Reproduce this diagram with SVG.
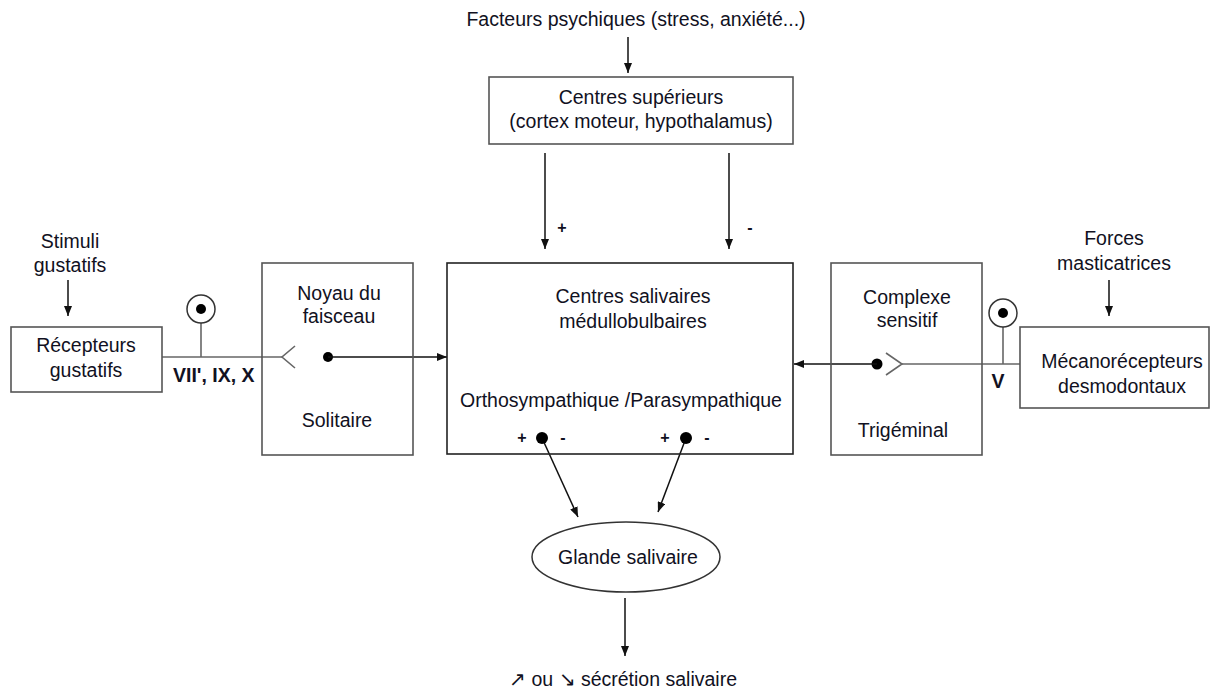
<svg xmlns="http://www.w3.org/2000/svg" width="1211" height="691" viewBox="0 0 1211 691">
<style>
  text { font-family: "Liberation Sans", Arial, sans-serif; font-size: 19.5px; fill: #111122; }
  .c { text-anchor: middle; }
  .b { font-weight: bold; }
  .s { font-size: 16px; font-weight: bold; }
  .box { fill: none; stroke: #555; stroke-width: 1.6; }
  .bbox { fill: none; stroke: #222; stroke-width: 1.6; }
  .ln { fill: none; stroke: #111; stroke-width: 1.5; }
  .gl { fill: none; stroke: #666; stroke-width: 1.6; }
  .dot { fill: #000; }
</style>
<defs>
  <marker id="arr" viewBox="0 0 10 8" refX="10" refY="4" markerWidth="10" markerHeight="8" orient="auto" markerUnits="userSpaceOnUse">
    <path d="M0,0 L10,4 L0,8 z" fill="#111"/>
  </marker>
</defs>
<rect width="1211" height="691" fill="#fff"/>

<g id="connectors">
  <line class="ln" x1="628" y1="37" x2="628" y2="73" marker-end="url(#arr)"/>
  <line class="ln" x1="545" y1="153" x2="545" y2="249" marker-end="url(#arr)"/>
  <line class="ln" x1="729" y1="153" x2="729" y2="249" marker-end="url(#arr)"/>
  <line class="ln" x1="68" y1="280" x2="68" y2="316" marker-end="url(#arr)"/>
  <line class="ln" x1="1109" y1="280" x2="1109" y2="316" marker-end="url(#arr)"/>
  <line class="gl" x1="162" y1="357" x2="282" y2="357"/>
  <polyline class="gl" points="295,346 282,357 295,368"/>
  <line class="gl" x1="201" y1="357" x2="201" y2="323"/>
  <circle cx="201" cy="309" r="14" fill="#fff" stroke="#333" stroke-width="1.5"/>
  <circle class="dot" cx="201" cy="309" r="5"/>
  <circle class="dot" cx="328" cy="357" r="5"/>
  <line class="ln" x1="328" y1="357" x2="447" y2="357" marker-end="url(#arr)"/>
  <line class="gl" x1="902" y1="364" x2="1020" y2="364"/>
  <polyline class="gl" points="886,353 902,364 886,375"/>
  <line class="gl" x1="1003" y1="364" x2="1003" y2="327"/>
  <circle cx="1003" cy="313" r="14" fill="#fff" stroke="#333" stroke-width="1.5"/>
  <circle class="dot" cx="1003" cy="313" r="5"/>
  <circle class="dot" cx="877" cy="364" r="5.5"/>
  <line class="ln" x1="877" y1="364" x2="794" y2="364" marker-end="url(#arr)"/>
  <line class="ln" x1="542" y1="438" x2="578" y2="517" marker-end="url(#arr)"/>
  <line class="ln" x1="686" y1="438" x2="658" y2="512" marker-end="url(#arr)"/>
  <line class="ln" x1="625" y1="598" x2="625" y2="656" marker-end="url(#arr)"/>
</g>

<g id="facteurs">
  <text class="c" x="636" y="26">Facteurs psychiques (stress, anxiété...)</text>
</g>

<g id="centres-superieurs">
  <rect class="box" x="489" y="77" width="304" height="67"/>
  <text class="c" x="641" y="104">Centres supérieurs</text>
  <text class="c" x="641" y="128">(cortex moteur, hypothalamus)</text>
</g>

<g id="signs-top">
  <text class="c s" x="562" y="233">+</text>
  <text class="c s" x="750" y="233">-</text>
</g>

<g id="stimuli">
  <text class="c" x="70" y="248">Stimuli</text>
  <text class="c" x="70" y="272">gustatifs</text>
</g>

<g id="recepteurs">
  <rect class="box" x="11" y="327" width="151" height="65"/>
  <text class="c" x="86" y="352">Récepteurs</text>
  <text class="c" x="86" y="377">gustatifs</text>
</g>

<g id="nerf-gustatif-label">
  <text class="b" x="173" y="382">VII', IX, X</text>
</g>

<g id="noyau">
  <rect class="box" x="262" y="263" width="151" height="192"/>
  <text class="c" x="339" y="300">Noyau du</text>
  <text class="c" x="339" y="323">faisceau</text>
  <text class="c" x="337" y="427">Solitaire</text>
</g>

<g id="centres-salivaires">
  <rect class="bbox" x="447" y="263" width="346" height="191"/>
  <text class="c" x="633" y="303">Centres salivaires</text>
  <text class="c" x="633" y="328">médullobulbaires</text>
  <text class="c" x="621" y="407">Orthosympathique /Parasympathique</text>
  <text class="c s" x="522" y="443">+</text>
  <text class="c s" x="563" y="443">-</text>
  <text class="c s" x="665" y="443">+</text>
  <text class="c s" x="707" y="443">-</text>
  <circle class="dot" cx="542" cy="438" r="6"/>
  <circle class="dot" cx="686" cy="438" r="6"/>
</g>

<g id="complexe">
  <rect class="box" x="831" y="263" width="151" height="192"/>
  <text class="c" x="907" y="304">Complexe</text>
  <text class="c" x="907" y="327">sensitif</text>
  <text class="c" x="903" y="437">Trigéminal</text>
</g>

<g id="nerf-trigeminal-label">
  <text class="b c" x="998" y="388">V</text>
</g>

<g id="forces">
  <text class="c" x="1114" y="245">Forces</text>
  <text class="c" x="1114" y="270">masticatrices</text>
</g>

<g id="mecanorecepteurs">
  <rect class="box" x="1020" y="327" width="189" height="81"/>
  <text class="c" x="1122" y="368">Mécanorécepteurs</text>
  <text class="c" x="1122" y="393">desmodontaux</text>
</g>

<g id="glande">
  <ellipse cx="626" cy="557" rx="94" ry="35" fill="#fff" stroke="#333" stroke-width="1.5"/>
  <text class="c" x="628" y="564">Glande salivaire</text>
</g>

<g id="secretion">
  <text class="c" x="623" y="686">↗ ou ↘ sécrétion salivaire</text>
</g>
</svg>
